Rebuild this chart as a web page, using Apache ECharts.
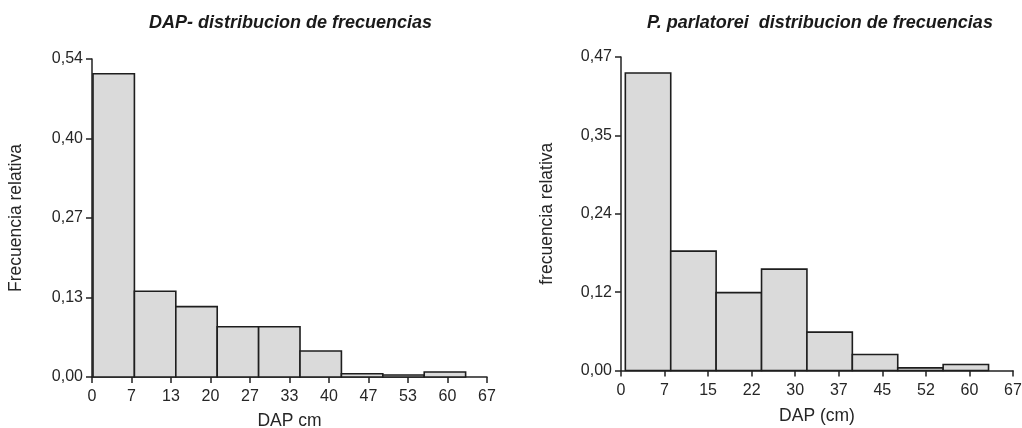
<!DOCTYPE html>
<html>
<head>
<meta charset="utf-8">
<script src="https://cdn.jsdelivr.net/npm/echarts@6/dist/echarts.min.js"></script>
<style>html,body{margin:0;padding:0;background:#fff}#c{width:1022px;height:428px}</style>
</head>
<body>
<div id="c"></div>
<script>
// Left chart: DAP distribution (all)
var binStartL = [0.17, 7.14, 14.11, 21.08, 28.05, 35.02, 41.99, 48.96, 55.93];
var binEndL   = [7.14, 14.11, 21.08, 28.05, 35.02, 41.99, 48.96, 55.93, 62.9];
var freqL     = [0.513, 0.145, 0.119, 0.085, 0.085, 0.044, 0.0056, 0.0034, 0.0085];
var xTicksL   = ['0','7','13','20','27','33','40','47','53','60','67'];
var yTicksL   = ['0,00','0,13','0,27','0,40','0,54'];
var xMaxL = 66.5, yMaxL = 0.538;

// Right chart: P. parlatorei
var binStartR = [0.74, 8.5, 16.26, 24.02, 31.78, 39.54, 47.3, 55.06];
var binEndR   = [8.5, 16.26, 24.02, 31.78, 39.54, 47.3, 55.06, 62.82];
var freqR     = [0.446, 0.179, 0.1167, 0.152, 0.0576, 0.024, 0.004, 0.009];
var xTicksR   = ['0','7','15','22','30','37','45','52','60','67'];
var yTicksR   = ['0,00','0,12','0,24','0,35','0,47'];
var xMaxR = 67, yMaxR = 0.47;

var FONT = 'Liberation Sans';
var TXT = '#262626';

function toData(s, e, f) {
  return s.map(function (v, i) { return [v, e[i], f[i]]; });
}

function renderBar(params, api) {
  var p0 = api.coord([api.value(0), api.value(2)]);
  var p1 = api.coord([api.value(1), 0]);
  return {
    type: 'rect',
    shape: { x: p0[0], y: p0[1], width: p1[0] - p0[0], height: p1[1] - p0[1] },
    style: { fill: '#dadada', stroke: '#1e1e1e', lineWidth: 1.6 }
  };
}

function xAxisCfg(idx, max, ticks, name, gap) {
  var n = ticks.length - 1;
  return {
    gridIndex: idx, type: 'value', min: 0, max: max, interval: max / n,
    name: name, nameLocation: 'middle', nameGap: gap,
    nameTextStyle: { fontFamily: FONT, fontSize: 17.5, color: TXT },
    axisLine: { show: true, lineStyle: { color: '#222', width: 1.5 } },
    axisTick: { show: true, length: 6, lineStyle: { color: '#222', width: 1.5 } },
    axisLabel: {
      fontFamily: FONT, fontSize: 16, color: TXT, margin: 12,
      formatter: function (v) { return ticks[Math.round(v / (max / n))]; }
    },
    splitLine: { show: false }
  };
}

function yAxisCfg(idx, max, ticks, name, gap) {
  var n = ticks.length - 1;
  return {
    gridIndex: idx, type: 'value', min: 0, max: max, interval: max / n,
    name: name, nameLocation: 'middle', nameGap: gap,
    nameTextStyle: { fontFamily: FONT, fontSize: 17.5, color: TXT },
    axisLine: { show: true, lineStyle: { color: '#222', width: 1.5 } },
    axisTick: { show: true, length: 6, lineStyle: { color: '#222', width: 1.5 } },
    axisLabel: {
      fontFamily: FONT, fontSize: 16, color: TXT, margin: 9,
      formatter: function (v) { return ticks[Math.round(v / (max / n))]; }
    },
    splitLine: { show: false }
  };
}

var chart = echarts.init(document.getElementById('c'), null, { renderer: 'canvas' });
chart.setOption({
  animation: false,
  backgroundColor: '#fff',
  title: [
    { text: 'DAP- distribucion de frecuencias', left: 285.5, top: 9, textAlign: 'center',
      textStyle: { fontFamily: FONT, fontSize: 18, fontWeight: 'bold', fontStyle: 'italic', color: '#1a1a1a' } },
    { text: 'P. parlatorei  distribucion de frecuencias', left: 815, top: 9, textAlign: 'center',
      textStyle: { fontFamily: FONT, fontSize: 18, fontWeight: 'bold', fontStyle: 'italic', color: '#1a1a1a' } }
  ],
  grid: [
    { left: 92, right: 535, top: 59, bottom: 51, outerBoundsMode: 'none', containLabel: false },
    { left: 621, right: 9, top: 57, bottom: 57.5, outerBoundsMode: 'none', containLabel: false }
  ],
  xAxis: [
    xAxisCfg(0, xMaxL, xTicksL, 'DAP cm', 35),
    xAxisCfg(1, xMaxR, xTicksR, 'DAP (cm)', 37)
  ],
  yAxis: [
    yAxisCfg(0, yMaxL, yTicksL, 'Frecuencia relativa', 67),
    yAxisCfg(1, yMaxR, yTicksR, 'frecuencia relativa', 65)
  ],
  series: [
    { type: 'custom', xAxisIndex: 0, yAxisIndex: 0, renderItem: renderBar,
      encode: { x: [0, 1], y: 2 }, data: toData(binStartL, binEndL, freqL) },
    { type: 'custom', xAxisIndex: 1, yAxisIndex: 1, renderItem: renderBar,
      encode: { x: [0, 1], y: 2 }, data: toData(binStartR, binEndR, freqR) }
  ]
});
</script>
</body>
</html>
